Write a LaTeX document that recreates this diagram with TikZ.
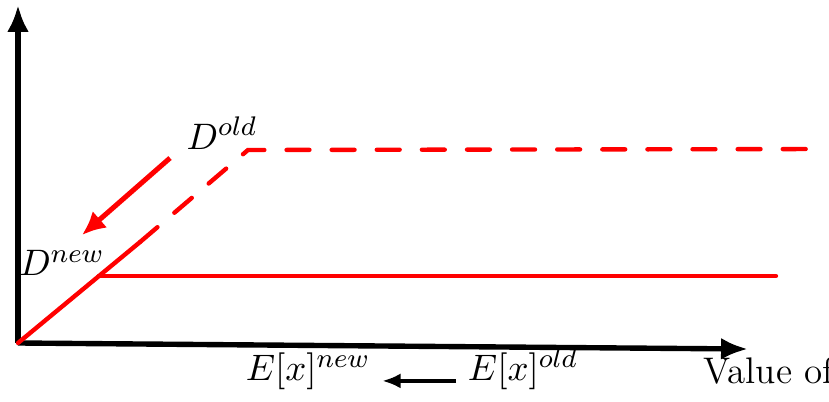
\documentclass[tikz,border=0pt]{standalone}
\usepackage{amsmath}
\usepackage{bm}
\usepackage{xcolor}
\usetikzlibrary{arrows.meta,positioning}

\begin{document}
\begin{tikzpicture}[>=Latex,
  axis/.style={line width=1.6pt,-{Latex[length=8pt,width=6.5pt]}},
  demand/.style={red,line width=1.3pt,line cap=round},
  olddemand/.style={demand,dash pattern=on 6.8pt off 6.6pt},
  shiftarrow/.style={red,line width=1.5pt,-{Latex[length=7pt,width=6.5pt]}},
  lbl/.style={font=\fontsize{11}{13}\selectfont}]
\useasboundingbox (0,0) rectangle (8.655,4.197);

% axes
\coordinate (orig) at (0.188,0.616);
\coordinate (ytop) at (0.188,4.145);
\coordinate (xend) at (7.809,0.553);
\draw[axis] (orig) -- (ytop);
\draw[axis] (orig) -- (xend);

% demand curves
\coordinate (knew) at (1.030,1.315);
\coordinate (snew) at (1.462,1.670);
\coordinate (enewd) at (8.101,1.315);
\coordinate (kold) at (2.589,2.631);
\coordinate (eoldd) at (8.488,2.641);
\draw[olddemand] (snew) -- (kold) -- (eoldd);
\draw[demand] (orig) -- (snew);
\draw[demand] (knew) -- (enewd);

% shift
\coordinate (sfrom) at (1.775,2.547);
\coordinate (sto) at (0.856,1.743);
\draw[shiftarrow] (sfrom) -- (sto);

\node[lbl] (dold) at (2.318,2.808) {$D^{old}$};
\node[lbl] (dnew) at (0.647,1.451) {$D^{new}$};

% expectations
\node[lbl,anchor=base] (enew) at (3.216,0.220) {$E[x]^{new}$};
\node[lbl,anchor=base] (eold) at (5.460,0.220) {$E[x]^{old}$};
\draw[line width=1.3pt,-{Latex[length=5.5pt,width=4.5pt]}] (eold.base west) -- (enew.base east);

\node[lbl,anchor=base west,inner sep=0pt] (valueof) at (7.339,0.198) {Value of};
\end{tikzpicture}
\end{document}
